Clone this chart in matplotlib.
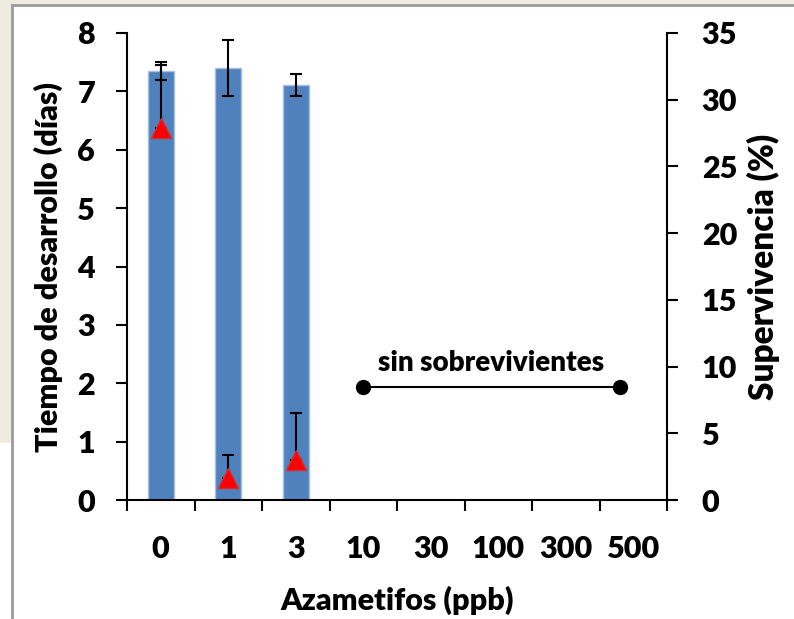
import matplotlib.pyplot as plt
from matplotlib.patches import Rectangle
from matplotlib.lines import Line2D
import numpy as np

# data
categories = ['0', '1', '3', '10', '30', '100', '300', '500']
dev_time = [7.35, 7.40, 7.11]          # dias (eje izq)
dev_err = [0.15, 0.48, 0.19]
survival = [27.9, 1.65, 3.0]           # % (eje der)
survival_err = [4.7, 1.7, 3.5]
no_survivors_x = [3, 6.8]
no_survivors_y = [8.5, 8.5]

plt.rcParams['font.family'] = ['Lato', 'DejaVu Sans']
plt.rcParams['font.weight'] = 'heavy'
W = 'heavy'

fig = plt.figure(figsize=(7.94, 6.19), dpi=100)

# frame around the chart (as in the original screenshot)
beige = '#EEECE1'
fig.patches.append(Rectangle((0, 1 - 5 / 619), 1, 5 / 619, transform=fig.transFigure,
                             facecolor=beige, edgecolor='none', zorder=-5))
fig.patches.append(Rectangle((0, 1 - 443 / 619), 11 / 794, 443 / 619, transform=fig.transFigure,
                             facecolor=beige, edgecolor='none', zorder=-5))
fig.lines.append(Line2D([11.5 / 794, 11.5 / 794], [0, 1 - 5 / 619], transform=fig.transFigure,
                        color='#9A9A9A', lw=2))
fig.lines.append(Line2D([11.5 / 794, 1], [1 - 5 / 619, 1 - 5 / 619], transform=fig.transFigure,
                        color='#9A9A9A', lw=2))

ax = fig.add_axes([127 / 794, 1 - 500 / 619, 540 / 794, 467 / 619])
ax2 = ax.twinx()

x = np.arange(len(categories))
xb = np.arange(len(dev_time))

ax.bar(xb, dev_time, width=0.39, color='#4F81BD', edgecolor='#A7C0DE', linewidth=1, zorder=2)
ax.errorbar(xb, dev_time, yerr=dev_err, fmt='none', ecolor='black', elinewidth=1.5,
            capsize=4, capthick=1.5, zorder=3)

ax.set_xlim(-0.5, len(categories) - 0.5)
ax.set_ylim(0, 8)
ax.set_yticks(range(0, 9))
ax.set_xticks(np.arange(-0.5, len(categories)), minor=False)
ax.set_xticklabels([])
ax.set_xticks(x, minor=True)
ax.set_xticklabels(categories, minor=True)
ax.tick_params(axis='x', which='major', direction='out', length=8, width=1.5)
ax.tick_params(axis='x', which='minor', length=0, pad=25, labelsize=22)
ax.tick_params(axis='y', direction='out', length=8, width=1.5, pad=15, labelsize=22)
for s in ['top', 'right']:
    ax.spines[s].set_visible(False)
for s in ['left', 'bottom']:
    ax.spines[s].set_linewidth(1.5)

ax.set_xlabel('Azametifos (ppb)', fontsize=22, fontweight=W, labelpad=17)
ax.set_ylabel('Tiempo de desarrollo (días)', fontsize=22, fontweight=W, labelpad=10)

# survival on right axis
ax2.errorbar(xb, survival, yerr=[[0] * len(survival_err), survival_err], fmt='none',
             ecolor='black', elinewidth=1.5, capsize=4, capthick=1.5, zorder=3)
ax2.plot(xb, survival, linestyle='none', marker='^', markersize=14,
         markerfacecolor='#FF0000', markeredgecolor='#D03030', markeredgewidth=1, zorder=4)
ax2.plot(no_survivors_x, no_survivors_y, color='black', lw=1.5, marker='o', markersize=10, zorder=4)
ax2.text(np.mean(no_survivors_x), no_survivors_y[0] + 0.8, 'sin sobrevivientes', ha='center',
         va='bottom', fontsize=20, fontweight=W)

ax2.set_ylim(0, 35)
ax2.set_yticks(range(0, 36, 5))
ax2.tick_params(axis='y', direction='out', length=8, width=1.5, pad=17, labelsize=22)
for s in ['top', 'left', 'bottom']:
    ax2.spines[s].set_visible(False)
ax2.spines['right'].set_linewidth(1.5)
ax2.set_ylabel('Supervivencia (%)', fontsize=24, fontweight=W, labelpad=7)

fig.savefig('out.png', dpi=100)
